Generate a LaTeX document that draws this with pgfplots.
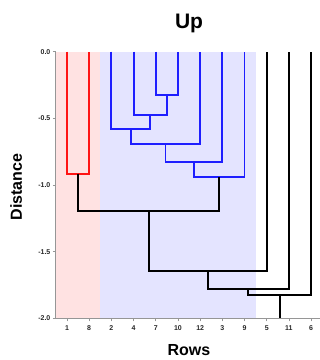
\documentclass[border=0pt]{standalone}
\usepackage{pgfplots}
\pgfplotsset{compat=1.18}
\usepackage{fontspec}
\setmainfont{Liberation Sans}

\definecolor{clsred}{RGB}{255,20,20}
\definecolor{clsblue}{RGB}{30,30,255}
\definecolor{shadered}{RGB}{255,226,226}
\definecolor{shadeblue}{RGB}{228,228,255}
\definecolor{axisgray}{RGB}{150,150,150}

\begin{document}
\begin{tikzpicture}[x=1pt,y=1pt]
\useasboundingbox (0,0) rectangle (320,360);
\begin{axis}[
  at={(55.9pt,41.7pt)}, anchor=south west,
  scale only axis, width=264.1pt, height=266.6pt,
  xmin=0.5, xmax=12.4, ymin=-2, ymax=0,
  clip=false,
  axis x line=bottom, axis y line=left,
  axis line style={-, axisgray, line width=1pt},
  tick style={axisgray, line width=0.8pt},
  tick align=outside, major tick length=3pt,
  xtick={1,2,3,4,5,6,7,8,9,10,11,12},
  xticklabels={1,8,2,4,7,10,12,3,9,5,11,6},
  ytick={-2,-1.5,-1,-0.5,0},
  yticklabels={-2.0,-1.5,-1.0,-0.5,0.0},
  ticklabel style={font=\fontsize{7}{8}\selectfont\bfseries, text=black!85},
  xticklabel style={yshift=-1pt},
  yticklabel style={xshift=1pt},
  every axis plot/.append style={line width=1.9pt},
]
% cluster shading
\addplot[fill=shadered, draw=none] coordinates {(0.5,0) (2.5,0) (2.5,-2) (0.5,-2)} -- cycle;
\addplot[fill=shadeblue, draw=none] coordinates {(2.5,0) (9.5,0) (9.5,-2) (2.5,-2)} -- cycle;

% red cluster: 1 & 8
\addplot[clsred] coordinates {(1,0) (1,-0.915) (2,-0.915) (2,0)};

% blue cluster
\addplot[clsblue] coordinates {(5,0) (5,-0.325) (6,-0.325) (6,0)};
\addplot[clsblue] coordinates {(4,0) (4,-0.472) (5.5,-0.472) (5.5,-0.325)};
\addplot[clsblue] coordinates {(3,0) (3,-0.58) (4.75,-0.58) (4.75,-0.472)};
\addplot[clsblue] coordinates {(3.875,-0.58) (3.875,-0.69) (7,-0.69) (7,0)};
\addplot[clsblue] coordinates {(5.4375,-0.69) (5.4375,-0.827) (8,-0.827) (8,0)};
\addplot[clsblue] coordinates {(6.71875,-0.827) (6.71875,-0.94) (9,-0.94) (9,0)};

% upper links
\addplot[black] coordinates {(1.5,-0.915) (1.5,-1.195) (7.859,-1.195) (7.859,-0.94)};
\addplot[black] coordinates {(4.68,-1.195) (4.68,-1.645) (10,-1.645) (10,0)};
\addplot[black] coordinates {(7.34,-1.645) (7.34,-1.78) (11,-1.78) (11,0)};
\addplot[black] coordinates {(9.17,-1.78) (9.17,-1.825) (12,-1.825) (12,0)};
\addplot[black] coordinates {(10.585,-1.825) (10.585,-2)};
\end{axis}
\node[anchor=base, font=\fontsize{21}{24}\selectfont\bfseries] at (189,331) {Up};
\node[anchor=base, font=\fontsize{16}{18}\selectfont\bfseries] at (189,5) {Rows};
\node[anchor=base, rotate=90, font=\fontsize{16}{18}\selectfont\bfseries] at (22,173) {Distance};
\end{tikzpicture}
\end{document}
